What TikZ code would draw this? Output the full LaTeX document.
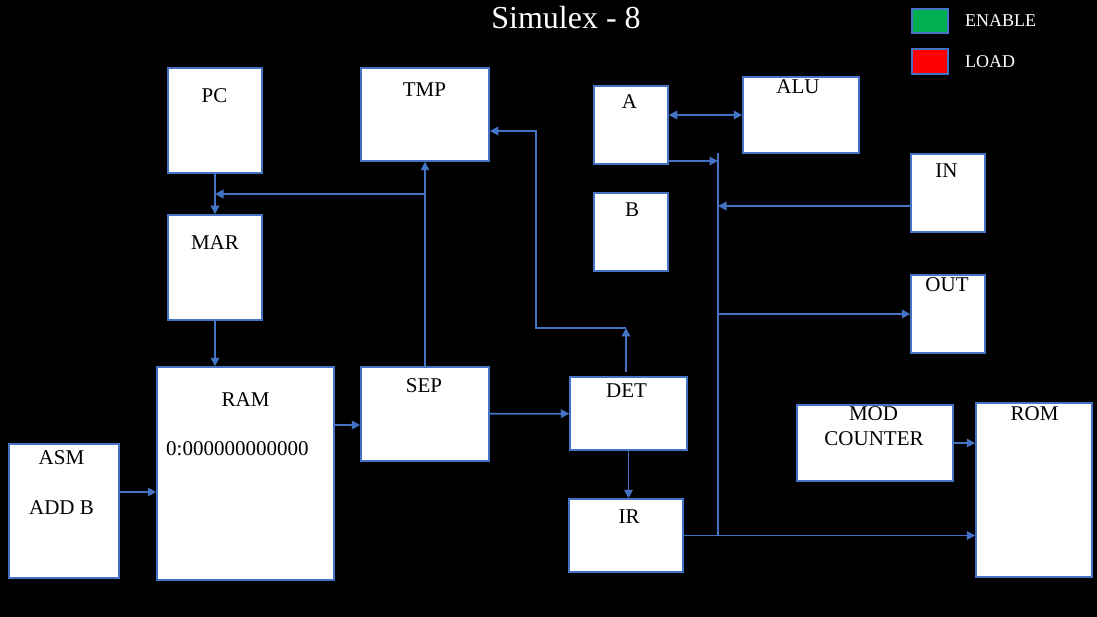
\documentclass[tikz,border=0pt]{standalone}
\usepackage{fontspec}
\setmainfont{Liberation Serif}
\usetikzlibrary{arrows.meta}
\definecolor{ofblue}{HTML}{4472C4}
\definecolor{engreen}{HTML}{00B050}

\begin{document}
\begin{tikzpicture}[x=1pt,y=-1pt]
\tikzstyle{every node}+=[inner sep=0pt]
\tikzstyle{blk}=[draw=ofblue, line width=1.5pt, fill=white, rectangle]
\tikzstyle{lbl}=[anchor=base, font=\fontsize{21}{24}\selectfont, text=black]
\tikzstyle{wire}=[draw=ofblue, line width=1.8pt]
\tikzstyle{tip}=[-{Triangle[length=8.5pt,width=8.5pt]}]
\fill [black] (0,0) rectangle (1097,617);
\node [anchor=base, text=white, font=\fontsize{32}{36}\selectfont] (title) at (566,29) {Simulex - 8};
\node [blk, fill=engreen, minimum width=36pt, minimum height=24pt] (en) at (930,21) {};
\node [blk, fill=red, minimum width=36pt, minimum height=25pt] (ld) at (930,61.5) {};
\node [anchor=base west, text=white, font=\fontsize{18}{20}\selectfont] (ent) at (965,27) {ENABLE};
\node [anchor=base west, text=white, font=\fontsize{18}{20}\selectfont] (ldt) at (965,68) {LOAD};
\node [blk, minimum width=94pt, minimum height=105pt] (pc) at (215,120.5) {};
\node [lbl] (pct) at (214.5,103) {PC};
\node [blk, minimum width=128pt, minimum height=93pt] (tmp) at (425,114.5) {};
\node [lbl] (tmpt) at (424.5,97) {TMP};
\node [blk, minimum width=74pt, minimum height=78pt] (a) at (631,125) {};
\node [lbl] (at) at (629.5,109) {A};
\node [blk, minimum width=116pt, minimum height=76pt] (alu) at (801,115) {};
\node [lbl] (alut) at (798,94) {ALU};
\node [blk, minimum width=74pt, minimum height=78pt] (b) at (631,232) {};
\node [lbl] (bt) at (632,217) {B};
\node [blk, minimum width=74pt, minimum height=78pt] (in) at (948,193) {};
\node [lbl] (intx) at (946.5,178) {IN};
\node [blk, minimum width=74pt, minimum height=78pt] (out) at (948,314) {};
\node [lbl] (outt) at (947,292) {OUT};
\node [blk, minimum width=94pt, minimum height=105pt] (mar) at (215,267.5) {};
\node [lbl] (mart) at (215,250) {MAR};
\node [blk, minimum width=177pt, minimum height=213pt] (ram) at (245.5,473.5) {};
\node [lbl] (ramt) at (245.5,406) {RAM};
\node [lbl, anchor=base west] (ramd) at (166,455) {0:000000000000};
\node [blk, minimum width=128pt, minimum height=94pt] (sep) at (425,414) {};
\node [lbl] (sept) at (424,392) {SEP};
\node [blk, minimum width=117pt, minimum height=73pt] (det) at (628.5,413.5) {};
\node [lbl] (dett) at (626.5,397) {DET};
\node [blk, minimum width=114pt, minimum height=73pt] (ir) at (626,535.5) {};
\node [lbl] (irt) at (629,523) {IR};
\node [blk, minimum width=110pt, minimum height=134pt] (asm) at (64,511) {};
\node [lbl] (asmt) at (61.5,464) {ASM};
\node [lbl] (asmd) at (61.5,514) {ADD B};
\node [blk, minimum width=156pt, minimum height=76pt] (mod) at (875,443) {};
\node [lbl] (modt) at (873.5,420) {MOD};
\node [lbl] (modd) at (874,445) {COUNTER};
\node [blk, minimum width=116pt, minimum height=174pt] (rom) at (1034,490) {};
\node [lbl] (romt) at (1034.5,420) {ROM};
\coordinate (j1) at (425,194);
\coordinate (c1) at (626,328);
\coordinate (c2) at (536,328);
\coordinate (bt) at (718,153);
\coordinate (bb) at (718,536);
\draw [wire, tip] (pc) -- (mar);
\draw [wire, tip] (mar.south) -- (mar.south |- ram.north);
\draw [wire, tip] ([yshift=19pt]asm.east) -- ([yshift=19pt]asm.east -| ram.west);
\draw [wire, tip] ([yshift=-11pt]sep.west -| ram.east) -- ([yshift=-11pt]sep.west);
\draw [wire, tip] (sep) -- (det);
\draw [wire, tip] (sep) -- (tmp);
\draw [wire, tip] (j1) -- (j1 -| pc);
\draw [wire, tip] ([yshift=4pt]det.north -| c1) -- (c1);
\draw [wire, tip] (c1) -- (c2) |- ([yshift=-16.5pt]tmp.east);
\draw [wire, tip] (det.south) -- (det.south |- ir.north);
\draw [wire, {Triangle[length=8.5pt,width=8.5pt]}-{Triangle[length=8.5pt,width=8.5pt]}] (a.east |- alu) -- (alu.west);
\draw [wire] (bt) -- (bb);
\draw [wire, tip] ([yshift=-36pt]a.east) -- ([yshift=-36pt]a.east -| bt);
\draw [wire, tip] ([yshift=-13pt]in.west) -- ([yshift=-13pt]in.west -| bt);
\draw [wire, tip] (out.west -| bt) -- (out.west);
\draw [wire, tip] (ir.east) -- (ir.east -| rom.west);
\draw [wire, tip] (mod.east) -- (mod.east -| rom.west);
\end{tikzpicture}
\end{document}
